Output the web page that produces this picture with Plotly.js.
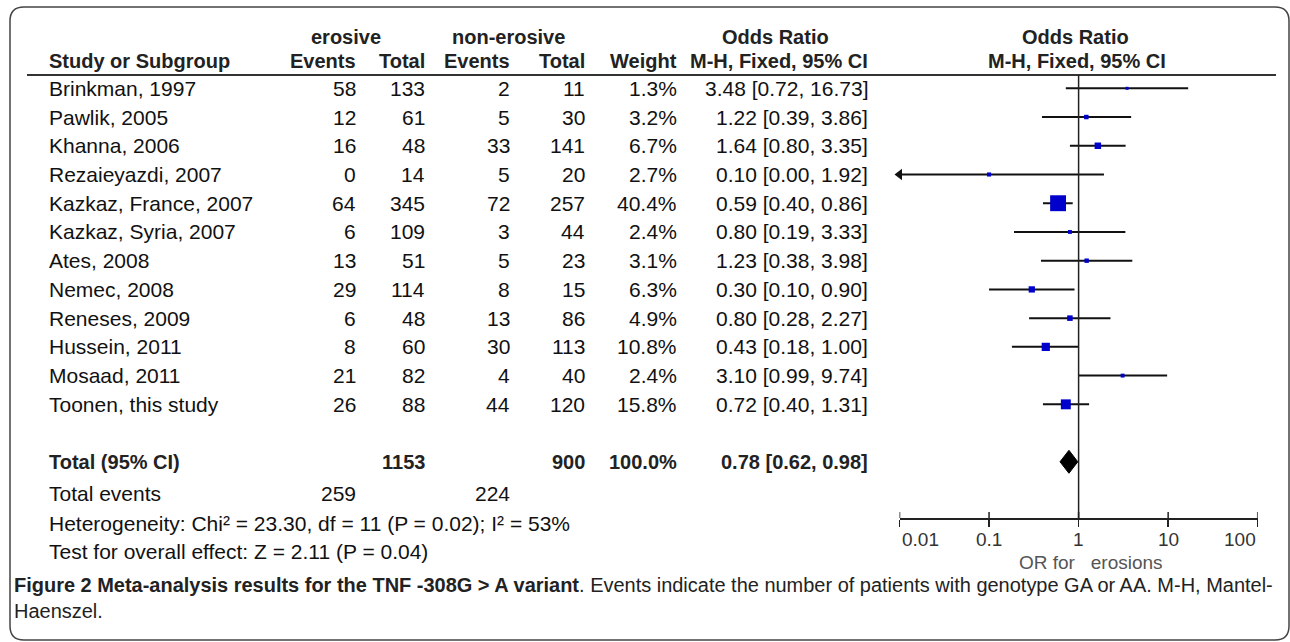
<!DOCTYPE html>
<html>
<head>
<meta charset="utf-8">
<script src="https://cdn.plot.ly/plotly-3.0.1.min.js"></script>
<style>html,body{margin:0;padding:0;background:#fff;}#chart{width:1290px;height:642px;}</style>
</head>
<body>
<div id="chart"></div>
<script>
// ---- data ----
const studies = ["Brinkman, 1997","Pawlik, 2005","Khanna, 2006","Rezaieyazdi, 2007","Kazkaz, France, 2007","Kazkaz, Syria, 2007","Ates, 2008","Nemec, 2008","Reneses, 2009","Hussein, 2011","Mosaad, 2011","Toonen, this study"];
const erosiveEvents = [58,12,16,0,64,6,13,29,6,8,21,26];
const erosiveTotal = [133,61,48,14,345,109,51,114,48,60,82,88];
const nonErosiveEvents = [2,5,33,5,72,3,5,8,13,30,4,44];
const nonErosiveTotal = [11,30,141,20,257,44,23,15,86,113,40,120];
const weights = [1.3,3.2,6.7,2.7,40.4,2.4,3.1,6.3,4.9,10.8,2.4,15.8];
const oddsRatio = [3.48,1.22,1.64,0.10,0.59,0.80,1.23,0.30,0.80,0.43,3.10,0.72];
const ciLower = [0.72,0.39,0.80,0.00,0.40,0.19,0.38,0.10,0.28,0.18,0.99,0.40];
const ciUpper = [16.73,3.86,3.35,1.92,0.86,3.33,3.98,0.90,2.27,1.00,9.74,1.31];
const totalOR = [0.78], totalLower = [0.62], totalUpper = [0.98];
const totalErosive = 1153, totalNonErosive = 900, totalWeight = 100.0;
const totalEventsErosive = 259, totalEventsNonErosive = 224;
const heterogeneityText = "Heterogeneity: Chi\u00B2 = 23.30, df = 11 (P = 0.02); I\u00B2 = 53%";
const overallText = "Test for overall effect: Z = 2.11 (P = 0.04)";
const tickVals = [0.01,0.1,1,10,100];
const tickText = ["0.01","0.1","1","10","100"];
const axisTitle = "OR for\u00A0\u00A0\u00A0erosions";
const captionBold = "Figure 2 Meta-analysis results for the TNF -308G > A variant";
const captionRest = ". Events indicate the number of patients with genotype GA or AA. M-H, Mantel-";
const captionLine2 = "Haenszel.";

// ---- geometry ----
const W = 1290, H = 642;
const row0 = 88.3, dy = 28.73;
const axisMin = 0.01, axisMax = 100;
const px = x => x / W;
const pyp = y => 1 - y / H;
const FONT = "Liberation Sans, Arial, sans-serif";
const TXT = "#111111";
const HDR = "#222222";
const FS = 21, HFS = 20;

const annotations = [];
function ann(text, x, y, anchor, opts) {
  opts = opts || {};
  annotations.push({
    text: text, xref: opts.xref || "paper", yref: opts.yref || "paper",
    x: opts.xref === "x" ? x : px(x), y: opts.yref === "y" ? y : pyp(y),
    xanchor: anchor, yanchor: "middle", showarrow: false,
    font: {family: opts.family || FONT, size: opts.size || FS, color: opts.color || TXT},
    align: anchor === "right" ? "right" : (anchor === "center" ? "center" : "left")
  });
  return annotations.length - 1;
}

// column right edges
const cEvE = 358, cTotE = 427, cEvN = 512, cTotN = 587, cW = 679, cOR = 870, cLeft = 47;

// header
const H1 = {color: HDR, size: HFS};
ann("<b>erosive</b>", 346, 37, "center", H1);
ann("<b>non-erosive</b>", 508, 37, "center", H1);
ann("<b>Odds Ratio</b>", 775, 37, "center", H1);
ann("<b>Odds Ratio</b>", 1075, 37, "center", H1);
ann("<b>Study or Subgroup</b>", cLeft, 61, "left", H1);
ann("<b>Events</b>", cEvE, 61, "right", H1);
ann("<b>Total</b>", cTotE, 61, "right", H1);
ann("<b>Events</b>", cEvN, 61, "right", H1);
ann("<b>Total</b>", cTotN, 61, "right", H1);
ann("<b>Weight</b>", cW, 61, "right", H1);
ann("<b>M-H, Fixed, 95% CI</b>", cOR, 61, "right", H1);
ann("<b>M-H, Fixed, 95% CI</b>", 1077, 61, "center", H1);

// study rows
studies.forEach((s, i) => {
  ann(s, cLeft, i, "left", {yref: "y"});
  ann(String(erosiveEvents[i]), cEvE, i, "right", {yref: "y"});
  ann(String(erosiveTotal[i]), cTotE, i, "right", {yref: "y"});
  ann(String(nonErosiveEvents[i]), cEvN, i, "right", {yref: "y"});
  ann(String(nonErosiveTotal[i]), cTotN, i, "right", {yref: "y"});
  ann(weights[i].toFixed(1) + "%", cW, i, "right", {yref: "y"});
  ann(oddsRatio[i].toFixed(2) + " [" + ciLower[i].toFixed(2) + ", " + ciUpper[i].toFixed(2) + "]", cOR, i, "right", {yref: "y"});
});
const totalRow = studies.length + 1;
const TB = {yref: "y", size: HFS, color: HDR};
ann("<b>Total (95% CI)</b>", cLeft, totalRow, "left", TB);
ann("<b>" + totalErosive + "</b>", cTotE, totalRow, "right", TB);
ann("<b>" + totalNonErosive + "</b>", cTotN, totalRow, "right", TB);
ann("<b>" + totalWeight.toFixed(1) + "%</b>", cW, totalRow, "right", TB);
ann("<b>" + totalOR[0].toFixed(2) + " [" + totalLower[0].toFixed(2) + ", " + totalUpper[0].toFixed(2) + "]</b>", cOR, totalRow, "right", TB);
ann("Total events", cLeft, 493, "left");
ann(String(totalEventsErosive), cEvE, 493, "right");
ann(String(totalEventsNonErosive), cEvN, 493, "right");
ann(heterogeneityText, cLeft, 523, "left");
ann(overallText, cLeft, 551, "left");

// axis tick labels (end labels sit inside the axis ends, as in the reference)
tickVals.forEach((v, k) => {
  const anchor = k === 0 ? "left" : (k === tickVals.length - 1 ? "right" : "center");
  annotations.push({text: tickText[k], xref: "x", yref: "paper", x: Math.log10(v), y: pyp(539),
    xanchor: anchor, yanchor: "middle", showarrow: false, align: "center",
    font: {family: FONT, size: 19, color: "#333"}});
});
ann(axisTitle, 1091, 562, "center", {color: "#555", size: 19});

// caption: size fitted after the first draw so line 1 spans the reference width
const CAP = "Liberation Sans, Arial, sans-serif";
const capA = ann("<b>" + captionBold + "</b>" + captionRest, 12, 585, "left", {family: CAP, size: 20, color: "#222"});
const capC = ann(captionLine2, 12, 611, "left", {family: CAP, size: 20, color: "#222"});

// ---- traces ----
const rows = studies.map((s, i) => i);
const ciX = [], ciY = [];
rows.forEach(i => {
  ciX.push(Math.max(ciLower[i], axisMin), Math.min(ciUpper[i], axisMax), null);
  ciY.push(i, i, null);
});
const arrowX = [], arrowY = [];
rows.forEach(i => { if (ciLower[i] < axisMin) { arrowX.push(axisMin); arrowY.push(i); } });

const traces = [
  {type: "scatter", mode: "lines", x: ciX, y: ciY, line: {color: "#111", width: 2}, hoverinfo: "skip", showlegend: false},
  {type: "scatter", mode: "markers", x: arrowX, y: arrowY, cliponaxis: false,
   marker: {symbol: "triangle-left", size: 10, color: "#111"}, showlegend: false},
  {type: "scatter", mode: "markers", x: oddsRatio, y: rows, cliponaxis: false,
   marker: {symbol: "square", size: weights.map(w => Math.max(3, 2.5 * Math.sqrt(w))), color: "#0000cc", opacity: 1, line: {width: 0}}, showlegend: false},
  {type: "scatter", mode: "lines", fill: "toself", fillcolor: "#000",
   x: [totalLower[0], totalOR[0], totalUpper[0], totalOR[0], totalLower[0]],
   y: [totalRow, totalRow - 0.4, totalRow, totalRow + 0.4, totalRow],
   line: {color: "#000", width: 1}, showlegend: false}
];

// ---- shapes ----
const shapes = [];
shapes.push({type: "line", xref: "paper", yref: "paper", x0: px(27), x1: px(1276), y0: pyp(75), y1: pyp(75), line: {color: "#333", width: 2}});
shapes.push({type: "line", xref: "x", yref: "paper", x0: 1, x1: 1, y0: pyp(75), y1: pyp(518), line: {color: "#222", width: 1.5}});
tickVals.forEach(v => shapes.push({type: "line", xref: "x", yref: "paper", x0: v, x1: v, y0: pyp(518), y1: pyp(512), line: {color: "#222", width: 1.5}}));
(function () {
  const L = px(10), R = px(1289), T = pyp(7), B = pyp(640);
  const rx = px(14), ry = 14 / H;
  const p = `M ${L} ${T - ry} Q ${L} ${T} ${L + rx} ${T} L ${R - rx} ${T} Q ${R} ${T} ${R} ${T - ry} L ${R} ${B + ry} Q ${R} ${B} ${R - rx} ${B} L ${L + rx} ${B} Q ${L} ${B} ${L} ${B + ry} Z`;
  shapes.push({type: "path", xref: "paper", yref: "paper", path: p, line: {color: "#444", width: 1.5}});
})();

const layout = {
  width: W, height: H, margin: {l: 0, r: 0, t: 0, b: 0},
  paper_bgcolor: "#fff", plot_bgcolor: "rgba(0,0,0,0)",
  showlegend: false,
  xaxis: {type: "log", domain: [899.5 / W, 1257.7 / W], range: [-2, 2], anchor: "free", position: pyp(518),
    showline: true, linecolor: "#222", linewidth: 1.5, ticks: "outside", ticklen: 7, tickwidth: 1.5, tickcolor: "#222",
    tickvals: tickVals, showticklabels: false,
    showgrid: false, zeroline: false, fixedrange: true},
  yaxis: {domain: [0, 1], range: [(H - row0) / dy, -row0 / dy], visible: false, showgrid: false, zeroline: false, fixedrange: true},
  annotations: annotations, shapes: shapes
};

Plotly.newPlot("chart", traces, layout, {staticPlot: true, displayModeBar: false}).then(gd => {
  const a = gd.querySelector('.annotation[data-index="' + capA + '"] text.annotation-text');
  if (a) {
    const wa = a.getComputedTextLength();
    const s = Math.min(22, 20 * (1264 - 4) / wa);
    const upd = {};
    upd["annotations[" + capA + "].font.size"] = s;
    upd["annotations[" + capC + "].font.size"] = s;
    return Plotly.relayout(gd, upd);
  }
});
</script>
</body>
</html>
